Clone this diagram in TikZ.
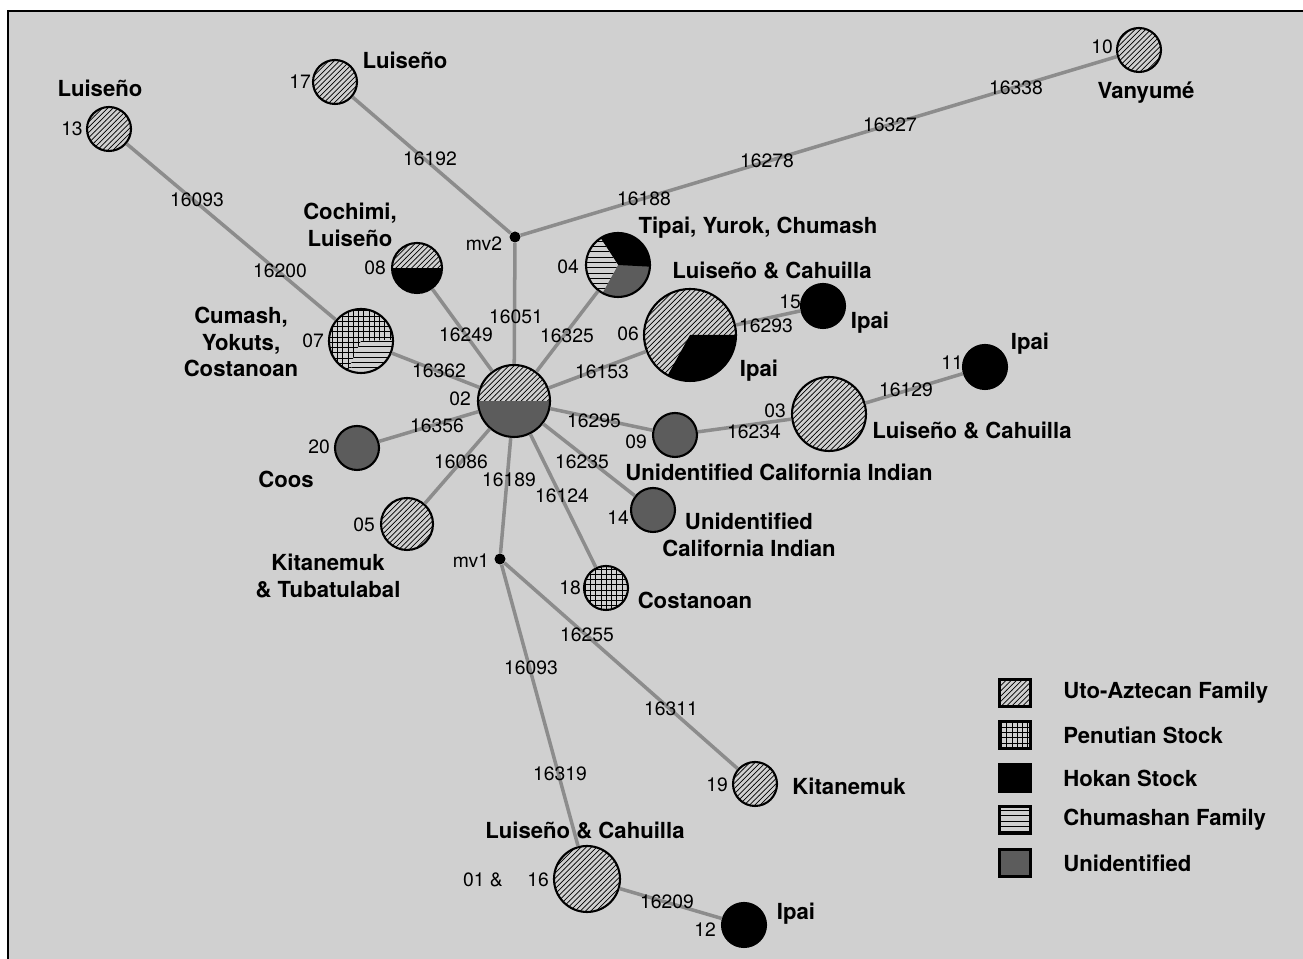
\documentclass[tikz,border=0pt]{standalone}
\usepackage{fontspec}
\setmainfont{TeX Gyre Heros}
\usetikzlibrary{patterns}

\definecolor{bgcol}{RGB}{208,208,208}
\definecolor{linkcol}{RGB}{140,140,140}
\definecolor{unidcol}{RGB}{92,92,92}

% one slice of a pie node, clipped to the node
\newcommand\piece[3]{\fill[#1] (path picture bounding box.center) -- ++(#2:1.5cm) arc[start angle=#2, end angle=#3, radius=1.5cm] -- cycle;}

\begin{document}
\begin{tikzpicture}[x=0.02cm, y=0.02cm,
	site/.style={circle, draw, line width=1.2pt, inner sep=0pt, minimum size=#1*0.04cm},
	mvdot/.style={circle, fill=black, inner sep=0pt, minimum size=0.22cm},
	uto/.style={pattern=north east lines, pattern color=black},
	penut/.style={pattern=grid, pattern color=black},
	chum/.style={pattern=horizontal lines, pattern color=black},
	uto node/.style={preaction={fill=bgcol}, uto},
	penut node/.style={preaction={fill=bgcol}, penut},
	link/.style={draw=linkcol, line width=2pt},
	num/.style={font=\fontsize{11}{13}\selectfont, inner sep=0pt},
	lab/.style={font=\fontsize{12.6}{15}\selectfont\bfseries, align=center, inner sep=0pt},
	key/.style={draw, line width=1.2pt, minimum width=0.62cm, minimum height=0.54cm, inner sep=0pt}]
%	\draw [help lines, dashed] (0,0) grid[step=100] (1303,959);  % help lines
	\useasboundingbox (0,0) rectangle (1303,959);

	% frame
	\fill [bgcol] (8,0) rectangle (1303,948);
	\draw [line width=1.1pt] (8,0) -- (8,948) -- (1303,948);

	% haplotypes
	\node [site=22, uto node] (n13) at (109,830) {};
	\node [site=22, uto node] (n17) at (335,877) {};
	\node [site=22, uto node] (n10) at (1139,909) {};
	\node [mvdot] (mv2) at (515,722) {};
	\node [site=25, fill=black, path picture={\piece{bgcol}{0}{180}\piece{uto}{0}{180}}] (n08) at (417,691) {};
	\node [site=32, penut node, path picture={\piece{bgcol}{-114}{2}\piece{chum}{-114}{2}}] (n07) at (361,618) {};
	\node [site=32, fill=unidcol, path picture={\piece{black}{-3}{123}\piece{bgcol}{123}{241}\piece{chum}{123}{241}}] (n04) at (618,694) {};
	\node [site=46, uto node, path picture={\piece{black}{-119}{0}}] (n06) at (690,624) {};
	\node [site=22, fill=black] (n15) at (823,653) {};
	\node [site=22, fill=black] (n11) at (985,592) {};
	\node [site=37, uto node] (n03) at (829,545) {};
	\node [site=22, fill=unidcol] (n09) at (675,524) {};
	\node [site=36, fill=unidcol, path picture={\piece{bgcol}{0}{180}\piece{uto}{0}{180}}] (n02) at (514,558) {};
	\node [site=22, fill=unidcol] (n20) at (357,511) {};
	\node [site=26, uto node] (n05) at (407,435) {};
	\node [site=22, fill=unidcol] (n14) at (653,449) {};
	\node [mvdot] (mv1) at (500,400) {};
	\node [site=22, penut node] (n18) at (606,371) {};
	\node [site=22, uto node] (n19) at (755,175) {};
	\node [site=33, uto node] (n16) at (587,80) {};
	\node [site=22, fill=black] (n12) at (744,34) {};

	% links
	\draw [link] (n13) -- (n07);
	\draw [link] (n17) -- (mv2);
	\draw [link] (mv2) -- (n10);
	\draw [link] (mv2) -- (n02);
	\draw [link] (n08) -- (n02);
	\draw [link] (n07) -- (n02);
	\draw [link] (n04) -- (n02);
	\draw [link] (n06) -- (n02);
	\draw [link] (n06) -- (n15);
	\draw [link] (n02) -- (n09);
	\draw [link] (n09) -- (n03);
	\draw [link] (n03) -- (n11);
	\draw [link] (n02) -- (n20);
	\draw [link] (n02) -- (n05);
	\draw [link] (n02) -- (mv1);
	\draw [link] (n02) -- (n18);
	\draw [link] (n02) -- (n14);
	\draw [link] (mv1) -- (n19);
	\draw [link] (mv1) -- (n16);
	\draw [link] (n16) -- (n12);

	% mutations
	\node [num] (m16093a) at (197,759) {16093};
	\node [num] (m16200) at (280,688) {16200};
	\node [num] (m16192) at (430,800) {16192};
	\node [num] (m16188) at (644,760) {16188};
	\node [num] (m16278) at (767,798) {16278};
	\node [num] (m16327) at (890,834) {16327};
	\node [num] (m16338) at (1016,871) {16338};
	\node [num] (m16051) at (516,642) {16051};
	\node [num] (m16249) at (466,624) {16249};
	\node [num] (m16325) at (567,623) {16325};
	\node [num] (m16362) at (439,588) {16362};
	\node [num] (m16153) at (602,587) {16153};
	\node [num] (m16293) at (766,633) {16293};
	\node [num] (m16295) at (594,538) {16295};
	\node [num] (m16234) at (754,527) {16234};
	\node [num] (m16129) at (906,569) {16129};
	\node [num] (m16356) at (437,533) {16356};
	\node [num] (m16086) at (461,497) {16086};
	\node [num] (m16189) at (509,479) {16189};
	\node [num] (m16124) at (562,463) {16124};
	\node [num] (m16235) at (582,497) {16235};
	\node [num] (m16255) at (587,324) {16255};
	\node [num] (m16093b) at (531,291) {16093};
	\node [num] (m16311) at (671,250) {16311};
	\node [num] (m16319) at (560,185) {16319};
	\node [num] (m16209) at (667,57) {16209};

	% sample numbers
	\node [num] (s13) at (72,830) {13};
	\node [num] (s17) at (300,877) {17};
	\node [num] (s10) at (1102,912) {10};
	\node [num] (smv2) at (484,715) {mv2};
	\node [num] (s08) at (375,691) {08};
	\node [num] (s07) at (313,618) {07};
	\node [num] (s04) at (568,692) {04};
	\node [num] (s06) at (628,625) {06};
	\node [num] (s15) at (790,657) {15};
	\node [num] (s11) at (952,596) {11};
	\node [num] (s03) at (775,548) {03};
	\node [num] (s09) at (636,517) {09};
	\node [num] (s02) at (460,560) {02};
	\node [num] (s20) at (319,512) {20};
	\node [num] (s05) at (364,434) {05};
	\node [num] (s14) at (618,441) {14};
	\node [num] (smv1) at (471,398) {mv1};
	\node [num] (s18) at (570,371) {18};
	\node [num] (s19) at (717,174) {19};
	\node [num] (s01) at (483,79) {01 \&};
	\node [num] (s16) at (538,79) {16};
	\node [num] (s12) at (705,29) {12};

	% tribes
	\node [lab] (t13) at (100,871) {Luiseño};
	\node [lab] (t17) at (405,899) {Luiseño};
	\node [lab] (t10) at (1146,866) {Vanyumé};
	\node [lab] (t08) at (350,734) {Cochimi,\\Luiseño};
	\node [lab] (t07) at (241,617) {Cumash,\\Yokuts,\\Costanoan};
	\node [lab] (t04) at (758,731) {Tipai, Yurok, Chumash};
	\node [lab] (t06a) at (772,688) {Luiseño \& Cahuilla};
	\node [lab] (t06b) at (759,588) {Ipai};
	\node [lab] (t15) at (870,636) {Ipai};
	\node [lab] (t11) at (1030,615) {Ipai};
	\node [lab] (t03) at (972,528) {Luiseño \& Cahuilla};
	\node [lab] (t09) at (779,487) {Unidentified California Indian};
	\node [lab] (t20) at (286,480) {Coos};
	\node [lab] (t05) at (328,383) {Kitanemuk\\\& Tubatulabal};
	\node [lab] (t14) at (749,424) {Unidentified\\California Indian};
	\node [lab] (t18) at (695,359) {Costanoan};
	\node [lab] (t19) at (849,173) {Kitanemuk};
	\node [lab] (t16) at (585,128) {Luiseño \& Cahuilla};
	\node [lab] (t12) at (796,45) {Ipai};

	% legend
	\node [key, uto node] (k1) at (1015,266) {};
	\node [key, penut node] (k2) at (1015,224) {};
	\node [key, fill=black] (k3) at (1015,181) {};
	\node [key, preaction={fill=bgcol}, chum] (k4) at (1015,139) {};
	\node [key, fill=unidcol] (k5) at (1015,96) {};
	\node [lab, anchor=west] (l1) at (1063,266) {Uto-Aztecan Family};
	\node [lab, anchor=west] (l2) at (1063,224) {Penutian Stock};
	\node [lab, anchor=west] (l3) at (1063,181) {Hokan Stock};
	\node [lab, anchor=west] (l4) at (1063,139) {Chumashan Family};
	\node [lab, anchor=west] (l5) at (1063,96) {Unidentified};
\end{tikzpicture}
\end{document}
